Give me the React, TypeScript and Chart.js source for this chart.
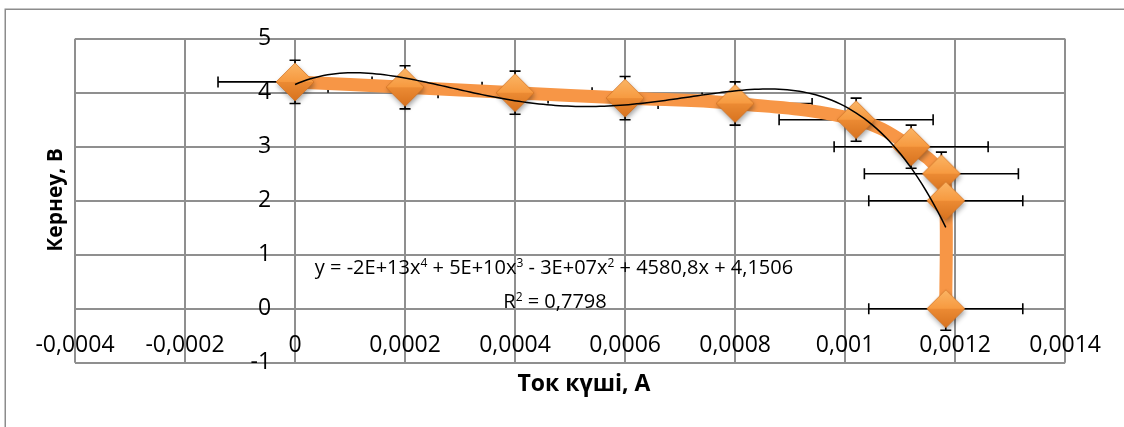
import React, { useEffect, useRef } from "react";
import { Chart, registerables } from "chart.js";

Chart.register(...registerables);

// ---------- data ----------
const currentA = [0, 0.0002, 0.0004, 0.0006, 0.0008, 0.00102, 0.00112, 0.001175, 0.001183, 0.001183];
const voltageV = [4.2, 4.1, 4.0, 3.9, 3.8, 3.5, 3.0, 2.5, 2.0, 0];
const xErrorA = [0.00014, 0.00014, 0.00014, 0.00014, 0.00014, 0.00014, 0.00014, 0.00014, 0.00014, 0.00014];
const yErrorV = [0.4, 0.4, 0.4, 0.4, 0.4, 0.4, 0.4, 0.4, 0.4, 0.4];

const xAxisMin = -0.0004;
const xAxisMax = 0.0014;
const xAxisStep = 0.0002;
const yAxisMin = -1;
const yAxisMax = 5;
const yAxisStep = 1;

const xTitle = "Ток күші, А";
const yTitle = "Кернеу, В";
// [text, isSuperscript]
const equationParts: [string, boolean][] = [
  ["y = -2E+13x", false],
  ["4", true],
  [" + 5E+10x", false],
  ["3", true],
  [" - 3E+07x", false],
  ["2", true],
  [" + 4580,8x + 4,1506", false],
];
const rSquaredParts: [string, boolean][] = [
  ["R", false],
  ["2", true],
  [" = 0,7798", false],
];
const trendDegree = 4;

// ---------- styling ----------
const FONT = "'Open Sans', 'DejaVu Sans', sans-serif";
const TICK_SIZE = 23;
const X_TITLE_SIZE = 23;
const Y_TITLE_SIZE = 21;
const EQ_SIZE = 20;
const GRID = "#8f8f8f";
const ORANGE = "#F79646";

// least-squares polynomial trendline (what the spreadsheet computes)
function polyFit(xs: number[], ys: number[], deg: number) {
  const s = 1000;
  const n = deg + 1;
  const A: number[][] = Array.from({ length: n }, () => new Array(n + 1).fill(0));
  for (let k = 0; k < xs.length; k++) {
    const u = xs[k] * s;
    for (let i = 0; i < n; i++) {
      for (let j = 0; j < n; j++) A[i][j] += Math.pow(u, i + j);
      A[i][n] += ys[k] * Math.pow(u, i);
    }
  }
  for (let c = 0; c < n; c++) {
    let p = c;
    for (let r = c + 1; r < n; r++) if (Math.abs(A[r][c]) > Math.abs(A[p][c])) p = r;
    [A[c], A[p]] = [A[p], A[c]];
    for (let r = 0; r < n; r++) {
      if (r === c) continue;
      const f = A[r][c] / A[c][c];
      for (let k = c; k <= n; k++) A[r][k] -= f * A[c][k];
    }
  }
  const coef = A.map((row, i) => row[n] / row[i]);
  return (x: number) => {
    const u = x * s;
    let v = 0;
    for (let i = n - 1; i >= 0; i--) v = v * u + coef[i];
    return v;
  };
}

function makeDiamond(r: number) {
  const pad = 7;
  const size = 2 * (r + pad);
  const c = document.createElement("canvas");
  c.width = size;
  c.height = size;
  const g = c.getContext("2d")!;
  const cx = size / 2;
  const cy = size / 2;
  const path = () => {
    g.beginPath();
    g.moveTo(cx - r, cy);
    g.lineTo(cx, cy - r);
    g.lineTo(cx + r, cy);
    g.lineTo(cx, cy + r);
    g.closePath();
  };
  g.save();
  g.shadowColor = "rgba(0,0,0,0.35)";
  g.shadowBlur = 5;
  g.shadowOffsetX = 1;
  g.shadowOffsetY = 3;
  path();
  g.fillStyle = "#E8852F";
  g.fill();
  g.restore();
  // upper facet
  let gr = g.createLinearGradient(cx, cy - r, cx, cy);
  gr.addColorStop(0, "#FBB565");
  gr.addColorStop(1, "#F79A40");
  g.beginPath();
  g.moveTo(cx - r, cy);
  g.lineTo(cx, cy - r);
  g.lineTo(cx + r, cy);
  g.closePath();
  g.fillStyle = gr;
  g.fill();
  // lower facet
  gr = g.createLinearGradient(cx, cy, cx, cy + r);
  gr.addColorStop(0, "#EC8B34");
  gr.addColorStop(1, "#D8731F");
  g.beginPath();
  g.moveTo(cx - r, cy);
  g.lineTo(cx + r, cy);
  g.lineTo(cx, cy + r);
  g.closePath();
  g.fillStyle = gr;
  g.fill();
  path();
  g.strokeStyle = "rgba(200,105,30,0.6)";
  g.lineWidth = 1;
  g.stroke();
  return c;
}

function fmtNum(v: number) {
  const n = Math.round(v * 1e7) / 1e7;
  return String(n).replace(".", ",");
}

function drawParts(ctx: CanvasRenderingContext2D, parts: [string, boolean][], cx: number, cy: number, size: number) {
  const sup = Math.round(size * 0.62);
  const widths = parts.map(([t, s]) => {
    ctx.font = `${s ? sup : size}px ${FONT}`;
    return ctx.measureText(t).width;
  });
  const total = widths.reduce((a, b) => a + b, 0);
  let x = cx - total / 2;
  ctx.textAlign = "left";
  ctx.textBaseline = "alphabetic";
  const base = cy + size * 0.36;
  parts.forEach(([t, s], i) => {
    ctx.font = `${s ? sup : size}px ${FONT}`;
    ctx.fillText(t, x, s ? base - size * 0.38 : base);
    x += widths[i];
  });
}

const framePlugin = {
  id: "frame",
  beforeDraw(chart: any) {
    const ctx = chart.ctx;
    ctx.save();
    ctx.fillStyle = "#ffffff";
    ctx.fillRect(0, 0, chart.width, chart.height);
    ctx.strokeStyle = "#8c8c8c";
    ctx.lineWidth = 1.5;
    ctx.strokeRect(5.25, 9.25, 1400, 800);
    ctx.restore();
  },
};

const errorBarsPlugin = {
  id: "errorBars",
  beforeDatasetsDraw(chart: any) {
    const { ctx, scales } = chart;
    const xs = scales.x;
    const ys = scales.y;
    ctx.save();
    ctx.strokeStyle = "#000000";
    ctx.lineWidth = 1.6;
    const cap = 5.5;
    currentA.forEach((cx, i) => {
      const px = xs.getPixelForValue(cx);
      const py = ys.getPixelForValue(voltageV[i]);
      const x0 = xs.getPixelForValue(cx - xErrorA[i]);
      const x1 = xs.getPixelForValue(cx + xErrorA[i]);
      const y0 = ys.getPixelForValue(voltageV[i] - yErrorV[i]);
      const y1 = ys.getPixelForValue(voltageV[i] + yErrorV[i]);
      ctx.beginPath();
      ctx.moveTo(x0, py);
      ctx.lineTo(x1, py);
      ctx.moveTo(x0, py - cap);
      ctx.lineTo(x0, py + cap);
      ctx.moveTo(x1, py - cap);
      ctx.lineTo(x1, py + cap);
      ctx.moveTo(px, y0);
      ctx.lineTo(px, y1);
      ctx.moveTo(px - cap, y0);
      ctx.lineTo(px + cap, y0);
      ctx.moveTo(px - cap, y1);
      ctx.lineTo(px + cap, y1);
      ctx.stroke();
    });
    ctx.restore();
  },
};

const textPlugin = {
  id: "texts",
  afterDraw(chart: any) {
    const ctx = chart.ctx;
    ctx.save();
    ctx.fillStyle = "#000000";
    ctx.textAlign = "center";
    ctx.textBaseline = "middle";
    ctx.font = `bold ${X_TITLE_SIZE}px ${FONT}`;
    ctx.fillText(xTitle, 584, 384);
    ctx.save();
    ctx.font = `bold ${Y_TITLE_SIZE}px ${FONT}`;
    ctx.translate(56, 200);
    ctx.rotate(-Math.PI / 2);
    ctx.fillText(yTitle, 0, 0);
    ctx.restore();
    drawParts(ctx, equationParts, 554, 267, EQ_SIZE);
    drawParts(ctx, rSquaredParts, 555, 301, EQ_SIZE);
    ctx.restore();
  },
};

export default function App() {
  const ref = useRef<HTMLCanvasElement | null>(null);
  useEffect(() => {
    if (!ref.current) return;
    const fit = polyFit(currentA, voltageV, trendDegree);
    const lo = Math.min(...currentA);
    const hi = Math.max(...currentA);
    const trend: { x: number; y: number }[] = [];
    const N = 160;
    for (let i = 0; i <= N; i++) {
      const xv = lo + ((hi - lo) * i) / N;
      trend.push({ x: xv, y: fit(xv) });
    }
    const marker = makeDiamond(19);
    const chart = new Chart(ref.current, {
      type: "scatter",
      data: {
        datasets: [
          {
            label: "trend",
            data: trend,
            showLine: true,
            borderColor: "#000000",
            borderWidth: 1.5,
            pointRadius: 0,
            tension: 0,
            order: 0,
          },
          {
            label: "U(I)",
            data: currentA.map((x, i) => ({ x, y: voltageV[i] })),
            showLine: true,
            borderColor: ORANGE,
            backgroundColor: ORANGE,
            borderWidth: 13,
            borderJoinStyle: "round",
            tension: 0.4,
            pointStyle: marker as any,
            pointRadius: 19,
            order: 1,
          },
        ],
      },
      options: {
        animation: false,
        responsive: false,
        devicePixelRatio: 1,
        layout: { padding: { left: 75, right: 54.5, top: 38.7, bottom: 64.3 } },
        plugins: { legend: { display: false }, tooltip: { enabled: false }, title: { display: false } },
        scales: {
          x: {
            type: "linear",
            position: { y: 0 } as any,
            min: xAxisMin,
            max: xAxisMax,
            ticks: {
              stepSize: xAxisStep,
              color: "#000",
              font: { family: FONT, size: TICK_SIZE },
              padding: 23,
              maxRotation: 0,
              autoSkip: false,
              callback: (v: any) => fmtNum(Number(v)),
            },
            grid: { color: GRID, lineWidth: 2, drawTicks: false },
            border: { display: false },
          },
          y: {
            type: "linear",
            position: { x: -0.0000434 } as any,
            min: yAxisMin,
            max: yAxisMax,
            ticks: {
              stepSize: yAxisStep,
              color: "#000",
              font: { family: FONT, size: TICK_SIZE },
              padding: 0,
              callback: (v: any) => fmtNum(Number(v)),
            },
            grid: { color: GRID, lineWidth: 2, drawTicks: false },
            border: { display: false },
          },
        },
      },
      plugins: [framePlugin, errorBarsPlugin, textPlugin],
    });
    return () => chart.destroy();
  }, []);
  return (
    <div style={{ position: "fixed", left: 0, top: 0, width: 1124, height: 427, background: "#fff" }}>
      <canvas ref={ref} width={1124} height={427} style={{ display: "block" }} />
    </div>
  );
}
